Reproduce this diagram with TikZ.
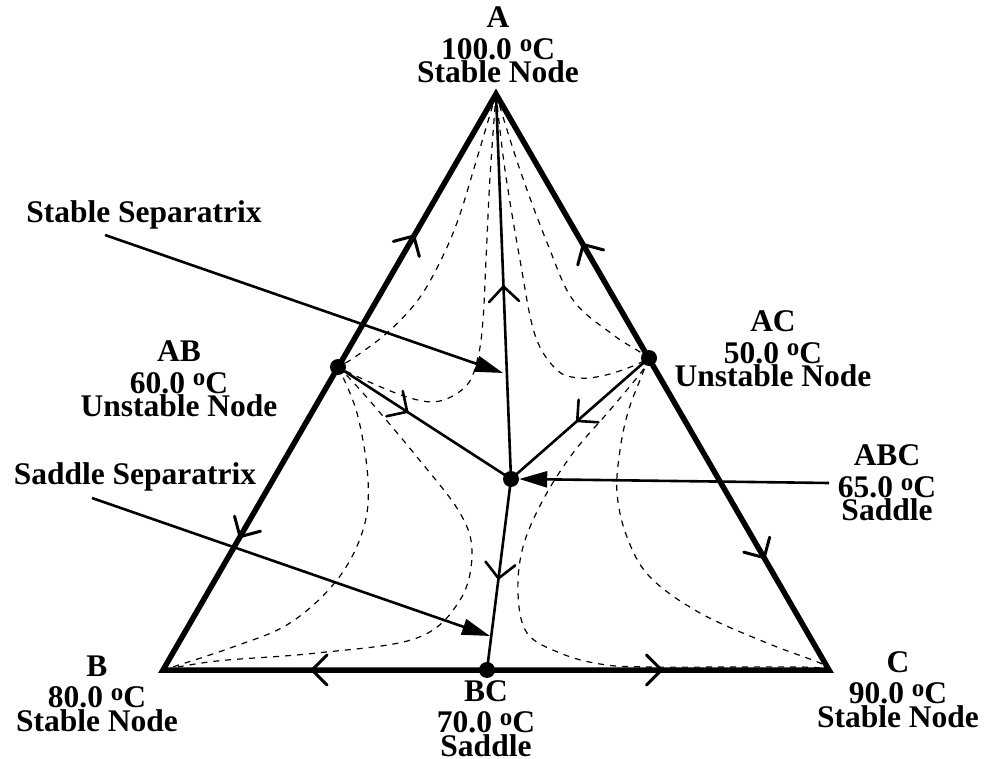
\documentclass[tikz,border=0pt]{standalone}
\usepackage{fontspec}
\setmainfont{Liberation Serif}
\usetikzlibrary{decorations.markings,arrows.meta}
\newcommand\degC{\raisebox{7.5pt}{\fontsize{25}{25}\selectfont o}C}
\begin{document}
\begin{tikzpicture}[x=1pt,y=-1pt,
  tri/.style={line width=5.5pt, line join=miter},
  sep/.style={line width=2.6pt},
  traj/.style={line width=1.2pt, dash pattern=on 6pt off 6pt},
  callout/.style={line width=2.6pt, -{Triangle[length=28pt,width=16pt]}},
  dot/.style={circle, fill=black, inner sep=0pt, minimum size=16pt},
  lbl/.style={font=\fontsize{31.5}{31.5}\selectfont\bfseries, align=center, inner sep=0pt, anchor=base},
  chevE/.style={decoration={markings, mark=at position #1 with {\draw[line width=3pt, line cap=round] (-15,15) -- (0,0) -- (-15,-15);}}, decorate},
  chevS/.style={decoration={markings, mark=at position #1 with {\draw[line width=2.6pt, line cap=round] (-15,15) -- (0,0) -- (-15,-15);}}, decorate}
]
\useasboundingbox (0,0) rectangle (989,759);

% vertices
\coordinate (pA) at (496,94);
\coordinate (pB) at (163,670);
\coordinate (pC) at (829,670);

% dashed trajectories
\draw[traj] plot[smooth, tension=0.6] coordinates {(pA) (475,165) (458,220) (440,262) (418,300) (388,332) (355,357) (338,367)};
\draw[traj] plot[smooth, tension=0.6] coordinates {(pA) (490,177) (486,260) (483,320) (478,357) (467,385) (440,401) (410,398) (367,381) (338,367)};
\draw[traj] plot[smooth, tension=0.6] coordinates {(pA) (505,170) (520,260) (535,335) (557,370) (580,378) (606,375) (633,366) (649,358)};
\draw[traj] plot[smooth, tension=0.6] coordinates {(pA) (520,170) (548,245) (573,300) (612,334) (640,352) (649,358)};
\draw[traj] plot[smooth, tension=0.6] coordinates {(338,367) (357,413) (368,480) (363,530) (337,580) (290,623) (233,647) (pB)};
\draw[traj] plot[smooth, tension=0.6] coordinates {(338,367) (363,393) (417,457) (460,513) (472,553) (460,600) (417,638) (317,653) (217,661) (pB)};
\draw[traj] plot[smooth, tension=0.6] coordinates {(649,358) (640,380) (628,412) (620,450) (617,493) (627,537) (650,577) (700,613) (767,643) (820,663) (pC)};
\draw[traj] plot[smooth, tension=0.6] coordinates {(649,358) (643,370) (610,410) (573,453) (543,500) (523,547) (518,593) (527,633) (560,653) (600,664) (650,667) (800,667) (pC)};

% triangle
\draw[tri] (pA) -- (pB) -- (pC) -- cycle;

% singular points
\node[dot] (nAB) at (338,367) {};
\node[dot] (nAC) at (649,358) {};
\node[dot] (nABC) at (511,479) {};
\node[dot] (nBC) at (487,670) {};

% edge flow chevrons
\path[chevE=0.48] (nAB.center) -- (pA);
\path[chevE=0.56] (nAB.center) -- (pB);
\path[chevE=0.43] (nAC.center) -- (pA);
\path[chevE=0.64] (nAC.center) -- (pC);
\path[chevE=0.54] (nBC.center) -- (pB);
\path[chevE=0.51] (nBC.center) -- (pC);

% separatrices
\draw[sep] (nABC.center) -- (pA);
\draw[sep] (nAB.center) -- (nABC.center);
\draw[sep] (nAC.center) -- (nABC.center);
\draw[sep] (nABC.center) -- (nBC.center);
\path[chevS=0.50] (nABC.center) -- (pA);
\path[chevS=0.40] (nAB.center) -- (nABC.center);
\path[chevS=0.52] (nAC.center) -- (nABC.center);
\path[chevS=0.52] (nABC.center) -- (nBC.center);

% labels (anchor = baseline of the last line)
\node[lbl] (lA) at (498,83) {A\\100.0 \degC\\[-8pt]Stable Node};
\node[lbl] (lAB) at (179,417) {AB\\60.0 \degC\\[-8pt]Unstable Node};
\node[lbl] (lAC) at (773,387) {AC\\50.0 \degC\\[-8pt]Unstable Node};
\node[lbl] (lABC) at (887,521) {ABC\\65.0 \degC\\[-8pt]Saddle};
\node[lbl] (lB) at (97,731) {B\\80.0 \degC\\[-8pt]Stable Node};
\node[lbl] (lBC) at (486,756) {BC\\70.0 \degC\\[-8pt]Saddle};
\node[lbl] (lC) at (898,727) {C\\90.0 \degC\\[-8pt]Stable Node};

\node[lbl] (tStable) at (144,223) {Stable Separatrix};
\node[lbl] (tSaddle) at (135,485) {Saddle Separatrix};

% callouts
\coordinate (sS) at (105,235);
\coordinate (sE) at (503,373);
\coordinate (dS) at (92,498);
\coordinate (dE) at (490,636);
\coordinate (aS) at (829,483);
\draw[callout] (sS) -- (sE);
\draw[callout] (dS) -- (dE);
\draw[callout] (aS) -- (nABC.east);
\end{tikzpicture}
\end{document}
